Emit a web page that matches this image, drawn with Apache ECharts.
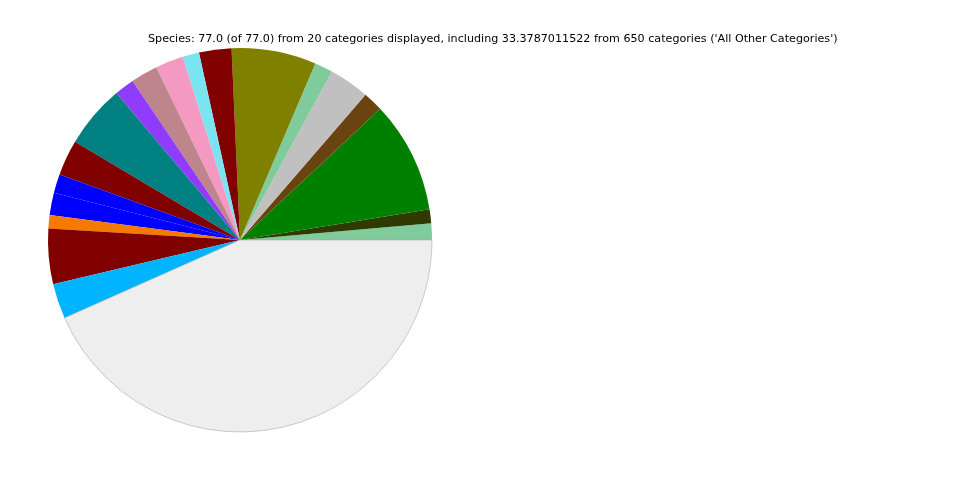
<!DOCTYPE html>
<html>
<head>
<meta charset="utf-8">
<script src="https://cdn.jsdelivr.net/npm/echarts@6/dist/echarts.min.js"></script>
<style>html,body{margin:0;padding:0;background:#fff;}#c{width:960px;height:480px;}</style>
</head>
<body>
<div id="c"></div>
<script>
const titleText = "Species: 77.0 (of 77.0) from 20 categories displayed, including 33.3787011522 from 650 categories ('All Other Categories')";
const categories = ["Cat 1","Cat 2","Cat 3","Cat 4","Cat 5","Cat 6","Cat 7","Cat 8","Cat 9","Cat 10","Cat 11","Cat 12","Cat 13","Cat 14","Cat 15","Cat 16","Cat 17","Cat 18","Cat 19","All Other Categories"];
const values = [1.07,0.90,7.25,1.30,2.61,1.18,5.48,2.10,1.07,1.82,1.75,1.29,4.10,2.31,1.22,1.45,0.86,3.59,2.27,33.3787011522];
const colors = ["#80cb9b","#2e3a00","#008000","#6a4410","#c0c0c0","#80cb9b","#808000","#800000","#7ae5f0","#f49ac2","#bf858d","#8f3cff","#008080","#800000","#0000ff","#0000ff","#f67a00","#800000","#00b4ff","#eeeeee"];

const chart = echarts.init(document.getElementById('c'), null, {renderer:'canvas'});
chart.setOption({
  animation:false,
  backgroundColor:'#ffffff',
  title:{text:titleText,left:143,top:29,textStyle:{fontFamily:'DejaVu Sans',fontSize:11.15,fontWeight:'normal',color:'#000'}},
  series:[{
    type:'pie',
    center:[240,240],
    radius:[0,192],
    startAngle:0,
    clockwise:false,
    label:{show:false},
    labelLine:{show:false},
    emphasis:{disabled:true},
    itemStyle:{borderWidth:0},
    data:categories.map((c,i)=>({name:c,value:values[i],itemStyle:{color:colors[i], borderColor: i===19?'#aaaaaa':colors[i], borderWidth: i===19?0.6:0}}))
  }]
});
</script>
</body>
</html>
